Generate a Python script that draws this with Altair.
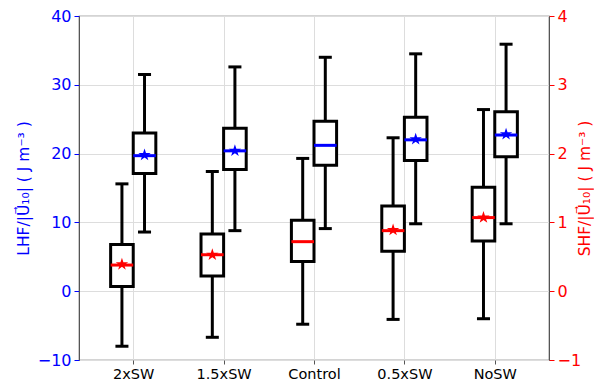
import altair as alt
import pandas as pd

cats = ["2xSW", "1.5xSW", "Control", "0.5xSW", "NoSW"]

lhf_wlo = [8.6, 8.8, 9.1, 9.8, 9.8]
lhf_q1 = [17.1, 17.7, 18.3, 19.0, 19.55]
lhf_med = [19.7, 20.4, 21.2, 22.0, 22.7]
lhf_q3 = [23.0, 23.7, 24.7, 25.3, 26.1]
lhf_whi = [31.5, 32.6, 34.0, 34.5, 35.9]
lhf_mean = [19.8, 20.4, None, 22.1, 22.8]

shf_wlo = [-0.80, -0.67, -0.48, -0.41, -0.40]
shf_q1 = [0.07, 0.22, 0.43, 0.58, 0.73]
shf_med = [0.38, 0.53, 0.72, 0.88, 1.07]
shf_q3 = [0.68, 0.83, 1.03, 1.24, 1.51]
shf_whi = [1.56, 1.74, 1.93, 2.23, 2.64]
shf_mean = [0.39, 0.53, None, 0.89, 1.07]

HALF = 0.125
CAP = 0.072
STAR = ("M0,-1L0.2245,-0.309L0.951,-0.309L0.363,0.118L0.588,0.809L0,0.382"
        "L-0.588,0.809L-0.363,0.118L-0.951,-0.309L-0.2245,-0.309Z")


def frame(wlo, q1, med, q3, whi, mean, offset):
    rows = []
    for i, c in enumerate(cats):
        xc = i + offset
        rows.append(dict(cat=c, xc=xc, xl=xc - HALF, xr=xc + HALF,
                         cl=xc - CAP, cr=xc + CAP,
                         wlo=wlo[i], q1=q1[i], med=med[i], q3=q3[i],
                         whi=whi[i], mean=mean[i]))
    return pd.DataFrame(rows)


lhf = frame(lhf_wlo, lhf_q1, lhf_med, lhf_q3, lhf_whi, lhf_mean, HALF)
shf = frame(shf_wlo, shf_q1, shf_med, shf_q3, shf_whi, shf_mean, -HALF)

labels_expr = "[" + ",".join("'%s'" % c for c in cats) + "][datum.value]"
xscale = alt.Scale(domain=[-0.6, 4.6], nice=False, zero=False)
xaxis = alt.Axis(values=[0, 1, 2, 3, 4], labelExpr=labels_expr, title=None,
                 grid=True, gridColor="#dddddd", labelColor="black",
                 labelFontSize=14.5, tickColor="#555555", tickSize=4,
                 domain=False, labelPadding=3)


def group(df, color, yscale, yaxis):
    base = alt.Chart(df)
    X = alt.X("xc:Q", scale=xscale, axis=xaxis)
    whisk = base.mark_rule(color="black", strokeWidth=3).encode(
        x=X, y=alt.Y("wlo:Q", scale=yscale, axis=yaxis), y2="whi:Q")
    caplo = base.mark_rule(color="black", strokeWidth=3).encode(
        x=alt.X("cl:Q", scale=xscale, axis=xaxis), x2="cr:Q",
        y=alt.Y("wlo:Q", scale=yscale, axis=yaxis))
    caphi = base.mark_rule(color="black", strokeWidth=3).encode(
        x=alt.X("cl:Q", scale=xscale, axis=xaxis), x2="cr:Q",
        y=alt.Y("whi:Q", scale=yscale, axis=yaxis))
    box = base.mark_bar(fill="white", stroke="black", strokeWidth=3).encode(
        x=alt.X("xl:Q", scale=xscale, axis=xaxis), x2="xr:Q",
        y=alt.Y("q1:Q", scale=yscale, axis=yaxis), y2="q3:Q")
    med = base.mark_rule(color=color, strokeWidth=3).encode(
        x=alt.X("xl:Q", scale=xscale, axis=xaxis), x2="xr:Q",
        y=alt.Y("med:Q", scale=yscale, axis=yaxis))
    star = base.transform_filter("isValid(datum.mean)").mark_point(
        shape=STAR, filled=True, color=color, size=170, opacity=1).encode(
        x=X, y=alt.Y("mean:Q", scale=yscale, axis=yaxis))
    return alt.layer(whisk, caplo, caphi, box, med, star)


blue = "#0000ff"
red = "#ff0000"

lhf_axis = alt.Axis(orient="left", values=[-10, 0, 10, 20, 30, 40],
                    title="LHF/|U\u20d7\u2081\u2080| ( J m\u207b\u00b3 )",
                    titleColor=blue, labelColor=blue, tickColor=blue,
                    titleFontSize=15.5, titleFontWeight="normal",
                    labelFontSize=16, tickSize=5, labelPadding=3,
                    titlePadding=6, grid=True, gridColor="#dddddd",
                    domainColor="#555555",
                    labelExpr="replace(datum.label, '-', '\u2212')")
shf_axis = alt.Axis(orient="right", values=[-1, 0, 1, 2, 3, 4],
                    title="SHF/|U\u20d7\u2081\u2080| ( J m\u207b\u00b3 )",
                    titleColor=red, labelColor=red, tickColor=red,
                    titleFontSize=15.5, titleFontWeight="normal",
                    titleAngle=270, labelFontSize=16, tickSize=5,
                    labelPadding=3, titlePadding=12, grid=False,
                    domainColor="#555555",
                    labelExpr="replace(datum.label, '-', '\u2212')")

left = group(lhf, blue, alt.Scale(domain=[-10, 40], nice=False, zero=False),
             lhf_axis)
right = group(shf, red, alt.Scale(domain=[-1, 4], nice=False, zero=False),
              shf_axis)

chart = alt.layer(left, right).resolve_scale(y="independent").properties(
    width=470, height=344,
    padding={"left": 8, "top": 0, "right": 0, "bottom": 0},
).configure_view(stroke="#555555", strokeWidth=1.2).configure_axis(
    labelFont="DejaVu Sans", titleFont="DejaVu Sans")

chart.save("out.html", embed_options={"renderer": "svg", "actions": False})
